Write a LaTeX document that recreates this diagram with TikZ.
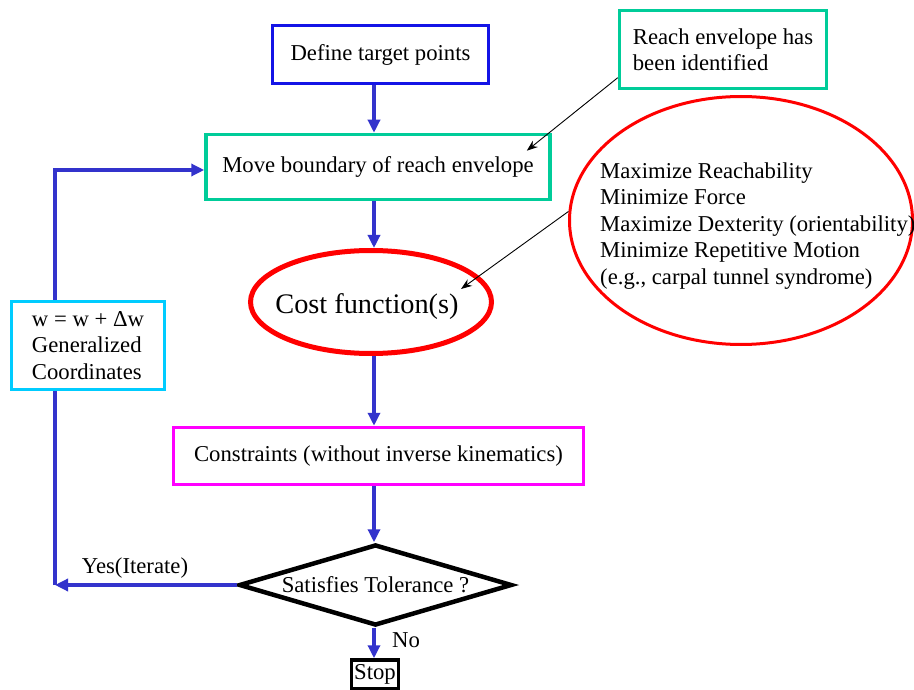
\documentclass[tikz,border=0pt]{standalone}
\usepackage{fontspec}
\setmainfont{Liberation Serif}
\usetikzlibrary{shapes.geometric,arrows.meta}
\definecolor{boxblue}{RGB}{20,20,230}
\definecolor{teal2}{RGB}{0,204,153}
\definecolor{lineblue}{RGB}{51,51,204}
\definecolor{red2}{RGB}{255,0,0}
\definecolor{mag2}{RGB}{255,0,255}
\definecolor{cyan2}{RGB}{0,204,255}
\tikzset{
  txt/.style={font=\fontsize{22.7}{26.5}\selectfont},
  rbox/.style={draw, rectangle, line width=3.5pt, inner sep=0pt, txt, align=center},
  bluearrow/.style={draw=lineblue, line width=3.5pt, -{Triangle[length=13pt,width=12pt]}},
  blueline/.style={draw=lineblue, line width=3.5pt},
  thinarrow/.style={draw=black, line width=0.9pt, -{Stealth[length=11pt,width=8pt]}},
}
\begin{document}
\begin{tikzpicture}[x=1pt,y=-1pt]
\useasboundingbox (0,0) rectangle (914,690);
\clip (0,0) rectangle (914,690);
\fill[white] (0,0) rectangle (914,690);

\node[rbox, draw=boxblue, minimum width=216pt, minimum height=58pt] (define) at (380.5,54.5) {Define target points};
\node[rbox, draw=teal2, minimum width=344pt, minimum height=65pt] (move) at (378,167) {Move boundary of reach envelope};
\node[rbox, draw=teal2, minimum width=207pt, minimum height=78pt, align=left] (reach) at (723,49.5) {Reach envelope has\\been identified};
\node[draw=red2, ellipse, line width=5pt, minimum width=241pt, minimum height=103pt, inner sep=0pt] (cost) at (371,302) {};
\node[font=\fontsize{28.3}{33}\selectfont] (costtext) at (367,307) {Cost function(s)};
\node[draw=red2, ellipse, line width=3pt, minimum width=343pt, minimum height=248pt, inner sep=0pt] (goals) at (741,220.5) {};
\node[txt, align=left, anchor=west, inner sep=0pt] (goalstext) at (600,226) {Maximize Reachability\\Minimize Force\\Maximize Dexterity (orientability)\\Minimize Repetitive Motion\\(e.g., carpal tunnel syndrome)};
\node[rbox, draw=mag2, minimum width=410pt, minimum height=57pt] (cons) at (378.5,456) {Constraints (without inverse kinematics)};
\node[draw=black, diamond, aspect=3.3, line width=4.5pt, minimum width=273pt, minimum height=81pt, inner sep=0pt, txt] (sat) at (375.5,585) {Satisfies Tolerance ?};
\node[rbox, draw=black, minimum width=47pt, minimum height=29pt] (stop) at (375,674.5) {Stop};
\node[rbox, draw=cyan2, minimum width=153pt, minimum height=88pt, align=left] (wbox) at (88,345.5) {w = w + Δw\\Generalized\\Coordinates};

\coordinate (col) at (374,0);
\coordinate (yc) at (55,585);

\draw[bluearrow] (define.south -| col) -- (move.north -| col);
\draw[bluearrow] (move.south -| col) -- (cost.north -| col);
\draw[bluearrow] (cost.south -| col) -- (cons.north -| col);
\draw[bluearrow] (cons.south -| col) -- (sat.north -| col);
\draw[bluearrow] (sat.south -| col) -- (stop.north -| col);
\node[txt, anchor=west, inner sep=0pt] (nolabel) at (392,640) {No};
\draw[bluearrow] (sat.west) -- (yc);
\node[txt, inner sep=0pt] (yeslabel) at (135,568) {Yes(Iterate)};
\draw[blueline] (yc) -- (yc |- wbox.south);
\draw[bluearrow] (yc |- wbox.north) -- (yc |- 0,170) -- (move.west |- 0,170);

\draw[thinarrow] (reach.195) -- ([shift={(-25,18)}]move.north east);
\draw[thinarrow] (goals.177) -- ([shift={(90,-13)}]cost.center);
\end{tikzpicture}
\end{document}
